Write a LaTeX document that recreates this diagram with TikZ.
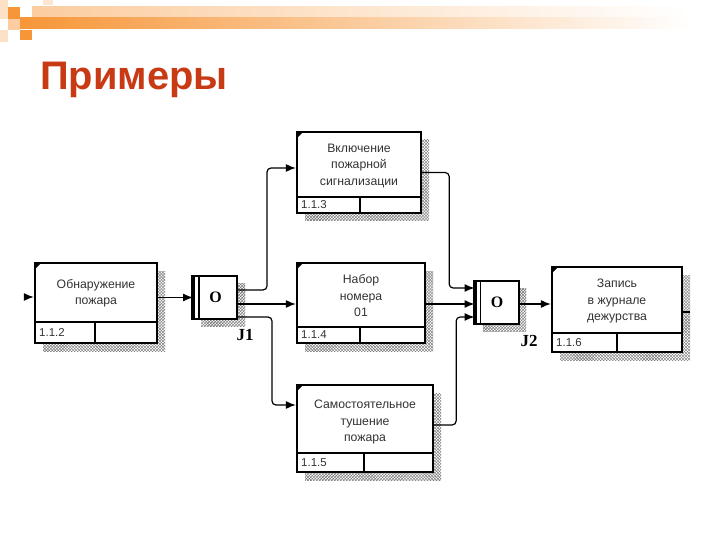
\documentclass[tikz,border=0pt]{standalone}
\usepackage{fontspec}
\setmainfont{Liberation Serif}
\newfontfamily\arialf{Liberation Sans}
\usetikzlibrary{arrows.meta,patterns,calc}
\definecolor{titlered}{RGB}{200,58,20}
\definecolor{barorange}{RGB}{246,150,56}
\definecolor{barlight}{RGB}{251,205,160}
\begin{document}
\begin{tikzpicture}[x=1bp,y=-1bp,
 proc/.style={draw, line width=2.3bp, fill=white, inner sep=0},
 divider/.style={line width=2.1bp},
 shadowpat/.style={pattern=crosshatch, pattern color=black!55},
 conn/.style={line width=1.2bp, -{Latex[length=10bp,width=8bp]}, rounded corners=4bp},
 boxtext/.style={font=\arialf\fontsize{12.3}{16.5}\selectfont, align=center, text=black!80, inner sep=0},
 numtext/.style={font=\arialf\fontsize{11.5}{13}\selectfont, text=black!80, inner sep=0, anchor=west},
 junc/.style={draw, line width=2bp, fill=white, minimum width=43bp, minimum height=43bp, inner sep=0, font=\fontsize{16}{18}\selectfont\bfseries},
 jlabel/.style={font=\fontsize{17}{18}\selectfont\bfseries, inner sep=0}
]
\useasboundingbox (0,0) rectangle (720,540);
\fill[white] (0,0) rectangle (720,540);
% top decoration
\shade[left color=barlight, right color=white] (32,7) rectangle (690,18);
\shade[left color=barorange, right color=white] (20,18) rectangle (690,29);
\fill[barlight!60] (0,0) rectangle (8,19);
\fill[barorange] (8,7) rectangle (20,19);
\fill[barlight] (8,19) rectangle (20,30);
\fill[barorange] (20,30) rectangle (32,40);
\fill[barlight!60] (0,30) rectangle (8,42);
\fill[barlight!50] (43,0) rectangle (53,5);
% title
\node[font=\arialf\bfseries\fontsize{40}{42}\selectfont, text=titlered, anchor=base west, inner sep=0] (title) at (40,90) {Примеры};

% shadows
\fill[shadowpat] (43,271) rectangle (165,351);
\fill[shadowpat] (305,140) rectangle (429,221);
\fill[shadowpat] (305,271) rectangle (433,351);
\fill[shadowpat] (305,393) rectangle (441,480);
\fill[shadowpat] (560,275) rectangle (690,360);
\fill[shadowpat] (201,283) rectangle (245,326);
\fill[shadowpat] (483,288) rectangle (526,331);

% boxes
\node[proc, minimum width=122bp, minimum height=80bp] (b112) at (96,303) {};
\draw[divider] (35,322) -- (157,322) (95,322) -- (95,343);
\fill (35,263) -- ++(6,0) -- ++(-6,6) -- cycle;
\node[boxtext] (t112) at (96,293) {Обнаружение\\пожара};
\node[numtext] (n112) at (39,332.5) {1.1.2};

\node[proc, minimum width=124bp, minimum height=81bp] (b113) at (359,172.5) {};
\draw[divider] (297,197) -- (421,197) (360,197) -- (360,213);
\fill (297,132) -- ++(6,0) -- ++(-6,6) -- cycle;
\node[boxtext] (t113) at (359,166) {Включение\\пожарной\\сигнализации};
\node[numtext] (n113) at (301,205) {1.1.3};

\node[proc, minimum width=128bp, minimum height=80bp] (b114) at (361,303) {};
\draw[divider] (297,327) -- (425,327) (360,327) -- (360,343);
\fill (297,263) -- ++(6,0) -- ++(-6,6) -- cycle;
\node[boxtext] (t114) at (361,296) {Набор\\номера\\01};
\node[numtext] (n114) at (301,335) {1.1.4};

\node[proc, minimum width=136bp, minimum height=87bp] (b115) at (365,428.5) {};
\draw[divider] (297,453) -- (433,453) (364,453) -- (364,472);
\fill (297,385) -- ++(6,0) -- ++(-6,6) -- cycle;
\node[boxtext] (t115) at (365,422) {Самостоятельное\\тушение\\пожара};
\node[numtext] (n115) at (301,462.5) {1.1.5};

\node[proc, minimum width=130bp, minimum height=85bp] (b116) at (617,309.5) {};
\draw[divider] (552,333) -- (682,333) (617,333) -- (617,352);
\fill (552,267) -- ++(6,0) -- ++(-6,6) -- cycle;
\node[boxtext] (t116) at (617,301) {Запись\\в журнале\\дежурства};
\node[numtext] (n116) at (556,342.5) {1.1.6};

% junctions
\node[junc] (j1) at (215.5,297.5) {O};
\draw[line width=4bp] (j1.north west) -- (j1.south west);
\draw[line width=1.2bp] ([xshift=6bp]j1.north west) -- ([xshift=6bp]j1.south west);
\node[jlabel] (lj1) at (245,335) {J1};

\node[junc] (j2) at (497,302.5) {O};
\draw[line width=4bp] (j2.north west) -- (j2.south west);
\draw[line width=1.2bp] ([xshift=6bp]j2.north west) -- ([xshift=6bp]j2.south west);
\node[jlabel] (lj2) at (529,341) {J2};

% connectors
\coordinate (in112) at (24,297);
\draw[conn] (in112) -- (in112 -| b112.west);
\draw[conn] (b112.east |- j1.west) -- (j1.west);
\draw[conn] ([yshift=7.5bp]j1.east) -- ++(29,0) |- ([yshift=4.5bp]b113.west);
\coordinate (b114in) at ([yshift=-1bp]b114.west);
\draw[conn] (j1.east |- b114in) -- (b114in);
\draw[conn] ([yshift=-19.5bp]j1.east) -- ++(34,0) |- ([yshift=23.5bp]b115.west);
\draw[conn] (b113.east) -- ++(27,0) |- ([yshift=14.5bp]j2.west);
\coordinate (b114out) at ([yshift=-1bp]b114.east);
\draw[conn] (b114out) -- (b114out -| j2.west);
\draw[conn] ([yshift=3.5bp]b115.east) -- ++(22,0) |- ([yshift=-14.5bp]j2.west);
\coordinate (b116in) at ([yshift=5.5bp]b116.west);
\draw[conn] (j2.east |- b116in) -- (b116in);
\draw[line width=1.2bp] ([yshift=-2.5bp]b116.east) -- ++(7,0);
\end{tikzpicture}
\end{document}
